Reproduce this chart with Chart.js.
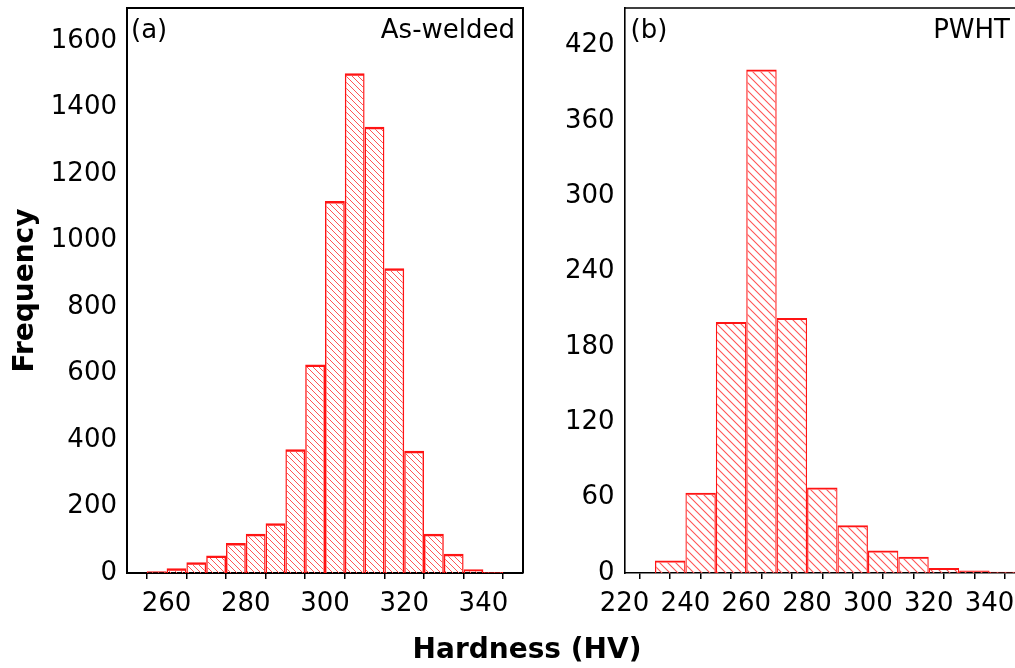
<!DOCTYPE html>
<html>
<head>
<meta charset="utf-8">
<script src="https://cdn.jsdelivr.net/npm/chart.js@4.4.1/dist/chart.umd.min.js"></script>
<style>
html,body{margin:0;padding:0;background:#fff;overflow:hidden;width:1015px;height:668px;}
#wrap{position:relative;width:1015px;height:668px;overflow:hidden;background:#fff;}
#ca{position:absolute;left:0;top:0;}
#cb{position:absolute;left:545px;top:0;}
#xt{position:absolute;left:327px;width:400px;top:635px;text-align:center;font:bold 28px 'DejaVu Sans';line-height:28px;color:#000;white-space:nowrap;}
</style>
</head>
<body>
<div id="wrap">
<canvas id="ca" width="545" height="668"></canvas>
<canvas id="cb" width="490" height="668"></canvas>
<div id="xt">Hardness (HV)</div>
</div>
<script>
// ---- data ----
const binStartA = [255,260,265,270,275,280,285,290,295,300,305,310,315,320,325,330,335,340];
const freqA     = [5,14,32,53,90,118,150,372,627,1119,1504,1343,917,368,118,58,11,3];
const binWidthA = 5;
const xTickLabelsA = [260,280,300,320,340];

const binStartB = [230,240,250,260,270,280,290,300,310,320,330,340];
const freqB     = [10,64,200,401,203,68,38,18,13,4,2,1];
const binWidthB = 10;
const xTickLabelsB = [220,240,260,280,300,320,340];

const panelTags = ['(a)','(b)'];
const panelNames = ['As-welded','PWHT'];
const yTitle = 'Frequency';

const FONT = "'DejaVu Sans'";

function hatch(size, color, lw){
  const c = document.createElement('canvas');
  c.width = size; c.height = size;
  const g = c.getContext('2d');
  g.strokeStyle = color; g.lineWidth = lw;
  g.beginPath();
  g.moveTo(0,0); g.lineTo(size,size);
  g.moveTo(-2,size-2); g.lineTo(2,size+2);
  g.moveTo(size-2,-2); g.lineTo(size+2,2);
  g.stroke();
  return g.createPattern(c,'repeat');
}

const panelPlugin = {
  id:'panel',
  afterDraw(chart, args, o){
    const ctx = chart.ctx, a = chart.chartArea;
    ctx.save();
    ctx.strokeStyle = '#000';
    ctx.lineWidth = o.lw;
    ctx.beginPath();
    ctx.moveTo(a.left, a.top); ctx.lineTo(a.right, a.top); ctx.lineTo(a.right, a.bottom);
    ctx.stroke();
    ctx.fillStyle = '#000';
    ctx.font = '26px ' + FONT;
    ctx.textBaseline = 'alphabetic';
    ctx.textAlign = 'left';
    ctx.fillText(o.tag, a.left + o.lx, o.y);
    ctx.textAlign = 'right';
    ctx.fillText(o.name, a.right - o.rx, o.y);
    ctx.restore();
  }
};

function makeChart(id, starts, counts, bw, xmin, xmax, xLabels, ymax, ystep, cfg){
  const data = starts.map((s,i)=>({x: s + bw/2, y: counts[i]}));
  return new Chart(document.getElementById(id), {
    type:'bar',
    data:{datasets:[{
      data: data,
      backgroundColor: hatch(cfg.hatch, 'rgb(255,85,85)', cfg.hatchW),
      borderColor:'#ff1414',
      borderWidth: cfg.bwidth,
      borderSkipped:'start',
      barPercentage:1.0,
      categoryPercentage:1.0,
      inflateAmount:0
    }]},
    plugins:[panelPlugin],
    options:{
      responsive:false,
      animation:false,
      devicePixelRatio:1,
      layout:{padding:{left:0, top:8, right:cfg.padRight, bottom:0}},
      plugins:{
        legend:{display:false},
        tooltip:{enabled:false},
        panel:{tag:cfg.tag, name:cfg.name, lx:cfg.lx, rx:cfg.rx, y:38, lw:cfg.axisW}
      },
      scales:{
        x:{
          type:'linear', min:xmin, max:xmax, offset:false,
          afterFit(s){ s.height = 95; s.paddingLeft = 0; s.paddingRight = 0; },
          grid:{display:true, drawOnChartArea:false, drawTicks:true, tickLength:6, color:'#000', lineWidth:1.5},
          border:{display:true, color:'#000', width:cfg.axisW},
          ticks:{
            stepSize:10, autoSkip:false, maxRotation:0, minRotation:0, padding:10,
            color:'#000', font:{family:FONT, size:26},
            callback:(v)=> xLabels.includes(v) ? String(v) : ''
          }
        },
        y:{
          min:0, max:ymax,
          afterFit(s){ s.width = cfg.yWidth; s.paddingTop = 0; s.paddingBottom = 0; },
          grid:{display:false, drawTicks:false},
          border:{display:true, color:'#000', width:cfg.axisW},
          ticks:{stepSize:ystep, includeBounds:false, padding:10, color:'#000', font:{family:FONT, size:26},
                 callback:(v)=> String(v)},
          title: cfg.ytitle ? {display:true, text:cfg.ytitle, color:'#000', font:{family:FONT, size:28, weight:'bold'}, padding:{top:9, bottom:0}} : {display:false}
        }
      }
    }
  });
}

makeChart('ca', binStartA, freqA, binWidthA, 250, 350, xTickLabelsA, 1700, 200,
  {hatch:6, hatchW:1, bwidth:{top:2.5, left:1.4, right:1.4, bottom:0}, padRight:22, yWidth:127, axisW:2,
   tag:panelTags[0], name:panelNames[0], lx:4, rx:8, ytitle:yTitle});
makeChart('cb', binStartB, freqB, binWidthB, 220, 350, xTickLabelsB, 450, 60,
  {hatch:8, hatchW:1.1, bwidth:{top:2, left:1.2, right:1.2, bottom:0}, padRight:15, yWidth:79.6, axisW:1.6,
   tag:panelTags[1], name:panelNames[1], lx:6, rx:10, ytitle:null});
</script>
</body>
</html>
